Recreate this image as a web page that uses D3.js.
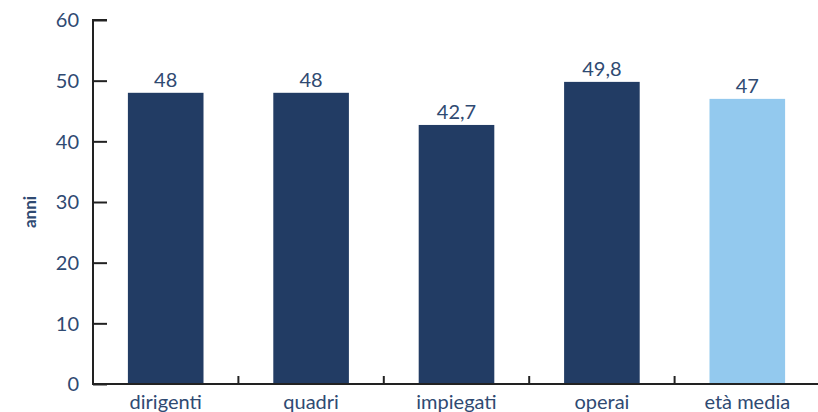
<!DOCTYPE html>
<html><head><meta charset="utf-8">
<script src="https://cdn.jsdelivr.net/npm/d3@7"></script>
<style>body{margin:0;background:#fff}svg{display:block}</style>
</head><body>
<svg id="c" width="818" height="412"></svg>
<script>
const categories = ["dirigenti","quadri","impiegati","operai","età media"];
const values = [48, 48, 42.7, 49.8, 47];
const labels = ["48","48","42,7","49,8","47"];
const yTicks = [0,10,20,30,40,50,60];
const colors = ["#223c64","#223c64","#223c64","#223c64","#93c9ee"];

const svg = d3.select("#c");
const x0 = 93, x1 = 820, yTop = 20, yBot = 384;
const x = d3.scaleBand().domain(categories).range([x0, x1]).paddingInner(0.48).paddingOuter(0.24);
const y = d3.scaleLinear().domain([0,60]).range([yBot, yTop]);
const txt = "#2f4a72";
const font = "Lato, 'Open Sans', sans-serif";

svg.selectAll("rect.bar").data(categories).enter().append("rect")
  .attr("x", d => x(d)).attr("width", x.bandwidth())
  .attr("y", (d,i) => y(values[i])).attr("height", (d,i) => yBot - y(values[i]))
  .attr("fill", (d,i) => colors[i]);

svg.selectAll("text.val").data(categories).enter().append("text")
  .attr("x", d => x(d) + x.bandwidth()/2).attr("y", (d,i) => y(values[i]) - 6)
  .attr("text-anchor","middle").attr("font-family", font).attr("font-size", 20)
  .attr("fill", txt).text((d,i) => labels[i]);

const yAxis = d3.axisRight(y).tickValues(yTicks).tickSize(14).tickFormat("");
const gy = svg.append("g").attr("transform", `translate(${x0},0)`).call(yAxis);
gy.select(".domain").attr("stroke","#222").attr("stroke-width",2).attr("d", `M14,${yTop}H0V${yBot}H14`);
gy.selectAll(".tick line").attr("stroke","#222").attr("stroke-width",2);
svg.selectAll("text.yt").data(yTicks).enter().append("text")
  .attr("x", 79).attr("y", d => y(d)).attr("dy","0.36em").attr("text-anchor","end")
  .attr("font-family", font).attr("font-size", 20).attr("fill", txt).text(d => d);

svg.append("line").attr("x1", x0).attr("x2", x1).attr("y1", yBot).attr("y2", yBot)
  .attr("stroke","#222").attr("stroke-width",2);
svg.selectAll("line.sep").data(categories.slice(1)).enter().append("line")
  .attr("x1", d => x(d) - (x.step()-x.bandwidth())/2).attr("x2", d => x(d) - (x.step()-x.bandwidth())/2)
  .attr("y1", yBot).attr("y2", yBot - 8).attr("stroke","#222").attr("stroke-width",2);

svg.selectAll("text.xl").data(categories).enter().append("text")
  .attr("x", d => x(d) + x.bandwidth()/2).attr("y", 409)
  .attr("text-anchor","middle").attr("font-family", font).attr("font-size", 20)
  .attr("fill", txt).text(d => d);

svg.append("text").attr("transform","translate(36,212) rotate(-90)")
  .attr("text-anchor","middle").attr("font-family", font).attr("font-size", 17)
  .attr("font-weight","bold").attr("fill", txt).text("anni");
</script>
</body></html>
